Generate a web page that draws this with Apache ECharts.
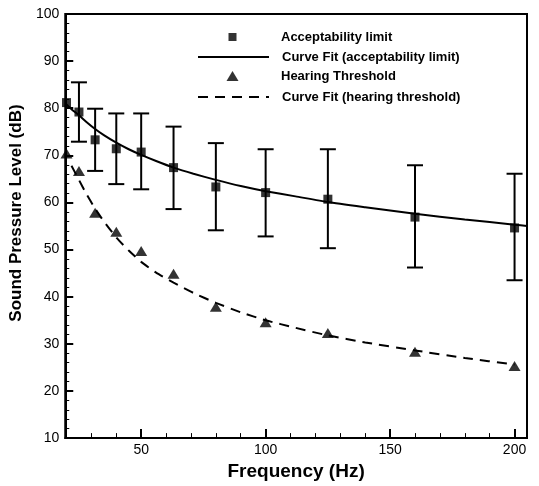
<!DOCTYPE html>
<html>
<head>
<meta charset="utf-8">
<script src="https://cdn.jsdelivr.net/npm/echarts@6/dist/echarts.min.js"></script>
<style>html,body{margin:0;padding:0;background:#fff}#c{width:539px;height:486px}</style>
</head>
<body>
<div id="c"></div>
<script>
// Measured frequencies (Hz)
const freqs = [20, 25, 31.5, 40, 50, 63, 80, 100, 125, 160, 200];
const acceptLimit = [81.2, 79.2, 73.3, 71.4, 70.7, 67.4, 63.3, 62.1, 60.7, 56.9, 54.6];
const errFreqs = [25, 31.5, 40, 50, 63, 80, 100, 125, 160, 200];
const errLow  = [72.9, 66.7, 63.9, 62.8, 58.6, 54.1, 52.8, 50.3, 46.2, 43.5];
const errHigh = [85.5, 79.9, 78.9, 78.9, 76.1, 72.6, 71.3, 71.3, 67.9, 66.1];
const hearing = [70.4, 66.7, 57.8, 53.8, 49.7, 44.9, 37.9, 34.6, 32.3, 28.3, 25.3];
// Curve fits
const fitAccFreqs = [20, 22, 25, 28, 31.5, 35, 40, 45, 50, 56, 63, 71, 80, 90, 100, 112, 125, 140, 160, 180, 200, 205];
const fitAccVals  = [80.8, 79.8, 78.5, 77.1, 75.6, 74.3, 72.7, 71.3, 70.1, 68.8, 67.4, 66.1, 64.8, 63.5, 62.4, 61.3, 60.1, 59.0, 57.6, 56.4, 55.3, 55.0];
const fitHearFreqs = [22, 25, 28, 31.5, 35, 40, 45, 50, 56, 63, 71, 80, 90, 100, 112, 125, 140, 160, 180, 200];
const fitHearVals  = [67.8, 64.8, 61.8, 58.7, 56.0, 52.6, 49.8, 47.4, 45.1, 43.0, 40.8, 38.7, 36.7, 35.0, 33.4, 31.8, 30.3, 28.6, 27.0, 25.6];
const xLabels = [50, 100, 150, 200];
const xMinor = [30, 40, 60, 70, 80, 90, 110, 120, 130, 140, 160, 170, 180, 190];

const names = ['Acceptability limit', 'Curve Fit (acceptability limit)', 'Hearing Threshold', 'Curve Fit (hearing threshold)'];
const FONT = '"Liberation Sans", Arial, sans-serif';
const zip = (a, b) => a.map((v, i) => [v, b[i]]);

const chart = echarts.init(document.getElementById('c'), null, {renderer: 'canvas'});
const legTop = [30, 50, 69, 90];
const legLeft = [228.5, 197, 226.5, 197];
const legIcons = ['path://M0,0H10V10H0Z', null, 'path://M6,0L12,10L0,10Z', null];
const legH = [8, 8, 10, 8];
const legends = names.map((n, i) => {
  const item = {name: n};
  if (legIcons[i]) item.icon = legIcons[i];
  else item.itemStyle = {opacity: 0, color: 'rgba(0,0,0,0)', borderWidth: 0};
  return {
    show: true, orient: 'vertical', left: legLeft[i], top: legTop[i], padding: 0,
    itemWidth: 71, itemHeight: legH[i], selectedMode: false, symbolKeepAspect: true,
    data: [item],
    textStyle: {fontFamily: FONT, fontSize: 13, fontWeight: 'bold', color: '#000', lineHeight: 14, padding: [0, 0, 0, 8]}
  };
});

chart.setOption({
  animation: false,
  backgroundColor: '#fff',
  legend: legends,
  grid: {left: 64, right: 12, top: 14, bottom: 42, show: true, borderColor: '#000', borderWidth: 2},
  xAxis: [{
    type: 'value', min: 19.5, max: 205,
    name: 'Frequency (Hz)', nameLocation: 'middle', nameGap: 18,
    nameTextStyle: {fontFamily: FONT, fontSize: 19, fontWeight: 'bold', color: '#000'},
    axisLine: {show: true, lineStyle: {color: '#000', width: 2}},
    axisTick: {show: true, inside: true, length: 9, lineStyle: {color: '#000', width: 2}, customValues: xLabels},
    axisLabel: {fontFamily: FONT, fontSize: 14, color: '#000', margin: 5, customValues: xLabels},
    splitLine: {show: false}
  }, {
    type: 'value', min: 19.5, max: 205, position: 'bottom',
    axisLine: {show: false},
    axisTick: {show: true, inside: true, length: 5, lineStyle: {color: '#000', width: 1}, customValues: xMinor},
    axisLabel: {show: false},
    splitLine: {show: false}
  }],
  yAxis: {
    type: 'value', min: 10, max: 100, interval: 10,
    name: 'Sound Pressure Level (dB)', nameLocation: 'middle', nameGap: 36,
    nameTextStyle: {fontFamily: FONT, fontSize: 17, fontWeight: 'bold', color: '#000', padding: [0, 0, 0, 26]},
    axisLine: {show: true, lineStyle: {color: '#000', width: 2}},
    axisTick: {show: true, inside: true, length: 8, lineStyle: {color: '#000', width: 2}},
    minorTick: {show: true, splitNumber: 5, length: 4, lineStyle: {color: '#000', width: 1}},
    axisLabel: {fontFamily: FONT, fontSize: 14, color: '#000', margin: 6},
    splitLine: {show: false}
  },
  series: [
    {
      type: 'custom', name: 'errorbars', z: 2, clip: false,
      data: errFreqs.map((f, i) => [f, errLow[i], errHigh[i]]),
      encode: {x: 0, y: [1, 2]},
      renderItem: function (params, api) {
        const lo = api.coord([api.value(0), api.value(1)]);
        const hi = api.coord([api.value(0), api.value(2)]);
        const hw = 8;
        const st = {stroke: '#000', lineWidth: 2};
        return {type: 'group', children: [
          {type: 'line', shape: {x1: lo[0], y1: lo[1], x2: hi[0], y2: hi[1]}, style: st},
          {type: 'line', shape: {x1: lo[0] - hw, y1: lo[1], x2: lo[0] + hw, y2: lo[1]}, style: st},
          {type: 'line', shape: {x1: hi[0] - hw, y1: hi[1], x2: hi[0] + hw, y2: hi[1]}, style: st}
        ]};
      }
    },
    {
      type: 'line', name: names[1], z: 3, data: zip(fitAccFreqs, fitAccVals),
      symbol: 'none', smooth: 0.2,
      lineStyle: {color: '#000', width: 2}, itemStyle: {color: '#000'}
    },
    {
      type: 'line', name: names[3], z: 3, data: zip(fitHearFreqs, fitHearVals),
      symbol: 'none', smooth: 0.2,
      lineStyle: {color: '#000', width: 2, type: [10, 7]}, itemStyle: {color: '#000'}
    },
    {
      type: 'scatter', name: names[0], z: 4, clip: false, data: zip(freqs, acceptLimit),
      symbol: 'rect', symbolSize: 9, itemStyle: {color: '#000'}
    },
    {
      type: 'scatter', name: names[2], z: 4, clip: false, data: zip(freqs, hearing),
      symbol: 'triangle', symbolSize: [12, 10], itemStyle: {color: '#000'}
    }
  ]
});
</script>
</body>
</html>
